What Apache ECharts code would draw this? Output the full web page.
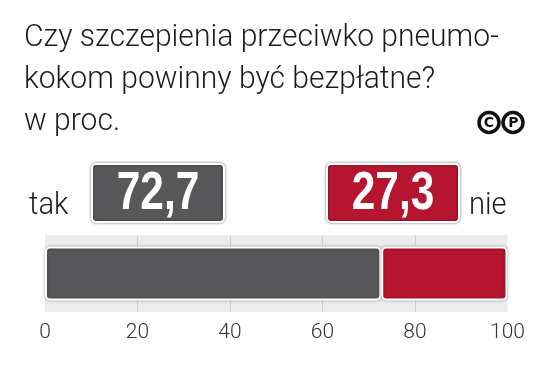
<!DOCTYPE html>
<html><head><meta charset="utf-8">
<script src="https://cdn.jsdelivr.net/npm/echarts@6/dist/echarts.min.js"></script>
<style>html,body{margin:0;padding:0;background:#fff}#c{width:539px;height:367px}</style>
</head><body><div id="c"></div>
<script>
const titleLines = ['Czy szczepienia przeciwko pneumo-', 'kokom powinny być bezpłatne?', 'w proc.'];
const categories = ['odpowiedź'];
const seriesNames = ['tak', 'nie'];
const takValues = [72.7];
const nieValues = [27.3];
const axisTicks = [0, 20, 40, 60, 80, 100];

const fmt = v => v.toFixed(1).replace('.', ',');
const LIGHT_FONT = '"Roboto Light", Roboto, sans-serif';
const chart = echarts.init(document.getElementById('c'), null, {renderer: 'canvas'});

function box(x, w, fill, txt) {
  return {
    type: 'group', children: [
      {type: 'rect', shape: {x: x, y: 164, width: w, height: 58, r: 4},
       style: {fill: fill, stroke: '#fff', lineWidth: 2, shadowBlur: 3, shadowColor: 'rgba(0,0,0,0.45)'}},
      {type: 'text', x: x + w / 2, y: 194, scaleX: 0.8,
       style: {text: txt, fill: '#fff', font: 'bold 53px "Liberation Sans", Arial, sans-serif',
               align: 'center', verticalAlign: 'middle'}}
    ]
  };
}

const titleGraphics = titleLines.map((t, i) => ({
  type: 'text', x: 24, y: 37 + i * 42, scaleX: 0.94,
  style: {text: t, fill: '#1a1a1a', font: '300 32px ' + LIGHT_FONT, align: 'left', verticalAlign: 'middle'}
}));

chart.setOption({
  animation: false,
  backgroundColor: '#fff',
  grid: {left: 45, right: 31.5, top: 235, height: 77, show: true, backgroundColor: '#ececec', borderWidth: 0},
  xAxis: {
    type: 'value', min: axisTicks[0], max: axisTicks[axisTicks.length - 1], interval: 20,
    axisLine: {show: false}, axisTick: {show: false},
    splitLine: {show: true, showMinLine: false, showMaxLine: false, lineStyle: {color: '#cfcfcf', width: 1}},
    axisLabel: {margin: 9, fontFamily: LIGHT_FONT, fontWeight: 300, fontSize: 21, color: '#333'}
  },
  yAxis: {type: 'category', data: categories, show: false},
  series: [
    {name: seriesNames[0], type: 'bar', stack: 's', data: takValues, barWidth: 54,
     itemStyle: {color: '#58585a', borderColor: '#fff', borderWidth: 2, borderRadius: 4, shadowBlur: 3, shadowColor: 'rgba(0,0,0,0.3)'}},
    {name: seriesNames[1], type: 'bar', stack: 's', data: nieValues, barWidth: 54,
     itemStyle: {color: '#b5152f', borderColor: '#fff', borderWidth: 2, borderRadius: 4, shadowBlur: 3, shadowColor: 'rgba(0,0,0,0.3)'}}
  ],
  graphic: titleGraphics.concat([
    {type: 'text', x: 29, y: 205, scaleX: 0.94, style: {text: seriesNames[0], fill: '#1a1a1a', font: '300 31px ' + LIGHT_FONT, verticalAlign: 'middle'}},
    {type: 'text', x: 469, y: 205, scaleX: 0.94, style: {text: seriesNames[1], fill: '#1a1a1a', font: '300 31px ' + LIGHT_FONT, verticalAlign: 'middle'}},
    box(92, 132, '#58585a', fmt(takValues[0])),
    box(327, 132, '#b5152f', fmt(nieValues[0])),
    {type: 'group', children: [
      {type: 'circle', shape: {cx: 489, cy: 122.5, r: 10}, style: {fill: '#fff', stroke: '#111', lineWidth: 3.5}},
      {type: 'text', x: 489, y: 123, style: {text: 'C', fill: '#111', font: 'bold 14px "DejaVu Sans"', align: 'center', verticalAlign: 'middle'}},
      {type: 'circle', shape: {cx: 513, cy: 122.5, r: 10}, style: {fill: '#fff', stroke: '#111', lineWidth: 3.5}},
      {type: 'text', x: 513.5, y: 123, style: {text: 'P', fill: '#111', font: 'bold 14px "DejaVu Sans"', align: 'center', verticalAlign: 'middle'}}
    ]}
  ])
});
</script></body></html>
